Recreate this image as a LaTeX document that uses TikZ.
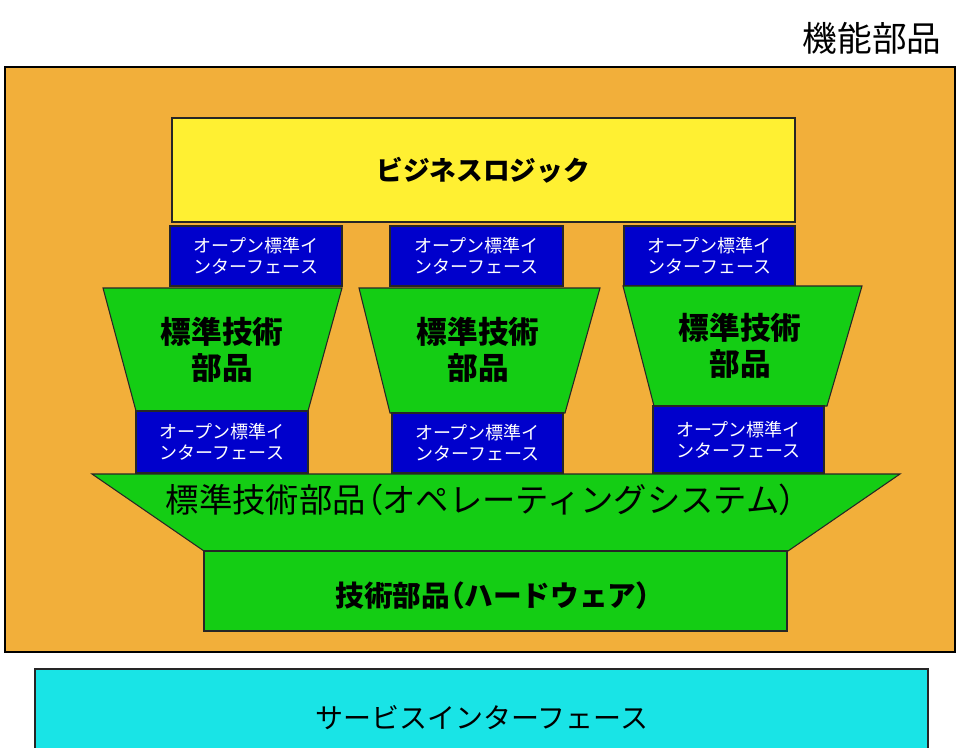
\documentclass[tikz,border=0pt]{standalone}
\usepackage{fontspec}
\setmainfont{Noto Sans CJK JP}
\newfontfamily\jpp{Noto Sans CJK JP}[RawFeature=+palt]
\newcommand{\lpar}{{\jpp （}}
\newcommand{\rpar}{{\jpp ）}}
\definecolor{bgorange}{RGB}{242,175,58}
\definecolor{bizyellow}{RGB}{255,240,50}
\definecolor{techgreen}{RGB}{20,205,20}
\definecolor{ifblue}{RGB}{0,0,204}
\definecolor{svccyan}{RGB}{25,228,230}
\tikzset{
  edge/.style={draw=black!85, line width=0.8pt},
  ifbox/.style={edge, fill=ifblue},
  techbox/.style={edge, fill=techgreen},
  iftext/.style={text=white, align=center, font=\fontsize{13.5pt}{15.5pt}\selectfont, inner sep=0pt},
  techtext/.style={text=black, align=center, font=\fontsize{23pt}{27pt}\selectfont\bfseries, inner sep=0pt}
}
\begin{document}
\begin{tikzpicture}[x=0.75pt,y=-0.75pt]
\useasboundingbox (0,0) rectangle (957,747);
\fill[white] (0,0) rectangle (957,747);
% title
\node[font=\fontsize{26pt}{28pt}\selectfont, inner sep=0pt] (title) at (872,38) {機能部品};
% outer frame
\draw[fill=bgorange, draw=black, line width=2pt] (5,67) rectangle (955,652);
% business logic
\draw[edge, fill=bizyellow] (172,118) rectangle (795,222);
\node[font=\fontsize{20pt}{24pt}\selectfont\bfseries, inner sep=0pt] (biz) at (483,170) {ビジネスロジック};
% top interfaces
\draw[ifbox] (170,226) rectangle (342,286);
\node[iftext] (ifa1) at (256,256) {オープン標準イ\\ンターフェース};
\draw[ifbox] (390,226) rectangle (563,286);
\node[iftext] (ifa2) at (476.5,256) {オープン標準イ\\ンターフェース};
\draw[ifbox] (624,226) rectangle (795,286);
\node[iftext] (ifa3) at (709.5,256) {オープン標準イ\\ンターフェース};
% standard tech parts (trapezoids)
\draw[techbox] (103,288) -- (342,288) -- (308,411) -- (136,411) -- cycle;
\node[techtext] (std1) at (222,350) {標準技術\\部品};
\draw[techbox] (359,288) -- (600,288) -- (565,413) -- (390,413) -- cycle;
\node[techtext] (std2) at (478,350) {標準技術\\部品};
\draw[techbox] (623,286) -- (862,286) -- (827,406) -- (654,406) -- cycle;
\node[techtext] (std3) at (740,346) {標準技術\\部品};
% bottom interfaces
\draw[ifbox] (136,411) rectangle (308,473);
\node[iftext] (ifb1) at (222,442) {オープン標準イ\\ンターフェース};
\draw[ifbox] (392,413) rectangle (563,473);
\node[iftext] (ifb2) at (477.5,443) {オープン標準イ\\ンターフェース};
\draw[ifbox] (653,406) rectangle (824,473);
\node[iftext] (ifb3) at (738.5,439.5) {オープン標準イ\\ンターフェース};
% OS
\draw[techbox] (92,474) -- (900,474) -- (788,551) -- (204,551) -- cycle;
\node[font=\fontsize{25pt}{28pt}\selectfont, inner sep=0pt] (os) at (481,500) {標準技術部品\lpar オペレーティングシステム\rpar};
% hardware
\draw[techbox] (204,551) rectangle (787,631);
\node[font=\fontsize{21.5pt}{26pt}\selectfont\bfseries, inner sep=0pt] (hw) at (493,596) {技術部品\lpar ハードウェア\rpar};
% service interface
\draw[edge, fill=svccyan] (35,669) rectangle (928,760);
\node[font=\fontsize{21pt}{24pt}\selectfont, inner sep=0pt] (svc) at (482,718) {サービスインターフェース};
\end{tikzpicture}
\end{document}
